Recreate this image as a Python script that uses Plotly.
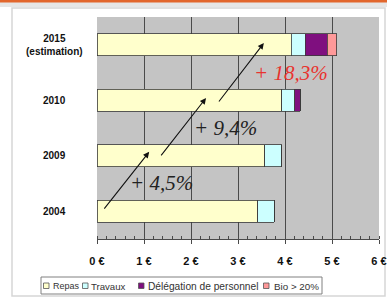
import plotly.graph_objects as go

categories = ["2004", "2009", "2010", "2015<br>(estimation)"]
repas = [3.42, 3.57, 3.93, 4.13]
travaux = [0.35, 0.36, 0.28, 0.30]
delegation = [0.0, 0.0, 0.11, 0.47]
bio = [0.0, 0.0, 0.0, 0.20]
series_names = ["Repas", "Travaux", "Délégation de personnel", "Bio > 20%"]
series_colors = ["#ffffcc", "#ccffff", "#7f0f7f", "#ff9999"]
x_ticks = [0, 1, 2, 3, 4, 5, 6]
x_ticklabels = ["0 €", "1 €", "2 €", "3 €", "4 €", "5 €", "6 €"]

growth = [4.5, 9.4, 18.3]
growth_colors = ["#222222", "#222222", "#e8332f"]
# arrow start/end positions (x in €, y in category index)
arrow_x0 = [0.13, 1.34, 2.57]
arrow_y0 = [0.02, 0.98, 1.95]
arrow_x1 = [1.11, 2.32, 3.55]
arrow_y1 = [1.07, 2.04, 3.03]
label_x = [1.38, 2.74, 4.13]
label_y = [0.51, 1.50, 2.49]

# legend layout (pixel x of each symbol and each label)
legend_sym_px = [43, 82, 138, 263]
legend_txt_px = [51, 89, 146, 272]
legend_font_sizes = [9.0, 9.6, 10.2, 9.8]

fig = go.Figure()
for name, vals, col in zip(series_names, [repas, travaux, delegation, bio], series_colors):
    fig.add_trace(go.Bar(
        y=list(range(len(categories))), x=vals, name=name, orientation="h",
        marker=dict(color=col, line=dict(color="#3a3a3a", width=0.8)),
        width=0.4, showlegend=False,
    ))

def px2x(px):
    return (px - 97) / 282.0

def py2y(py):
    return (239 - py) / 222.0

annotations = []
for i in range(3):
    annotations.append(dict(
        x=arrow_x1[i], y=arrow_y1[i], ax=arrow_x0[i], ay=arrow_y0[i],
        xref="x", yref="y", axref="x", ayref="y",
        showarrow=True, arrowhead=2, arrowsize=1.1, arrowwidth=1.1,
        arrowcolor="#111111", text="",
    ))
    annotations.append(dict(
        x=label_x[i], y=label_y[i], xref="x", yref="y", showarrow=False,
        text="<i>+ " + f"{growth[i]:.1f}".replace(".", ",") + "%</i>",
        font=dict(family="Liberation Serif", size=21, color=growth_colors[i]),
    ))

# category labels, centred like the original
for i, c in enumerate(categories):
    lines = c.split("<br>")
    annotations.append(dict(
        x=px2x(54), y=i, xref="paper", yref="y", showarrow=False,
        xanchor="center", yanchor="middle", align="center",
        text="<br>".join("<b>" + l + "</b>" for l in lines),
        font=dict(family="Liberation Sans", size=10, color="#111111"),
    ))

shapes = [
    dict(type="rect", xref="paper", yref="paper", x0=px2x(0), x1=px2x(387), y0=py2y(7), y1=py2y(2),
         fillcolor="#e6e6e6", line=dict(width=0), layer="below"),
    dict(type="rect", xref="paper", yref="paper", x0=px2x(12), x1=px2x(385), y0=py2y(296), y1=py2y(8),
         fillcolor="rgba(0,0,0,0)", line=dict(color="#d6d6d6", width=1.5), layer="below"),
    dict(type="rect", xref="paper", yref="paper", x0=px2x(0), x1=px2x(387), y0=py2y(2.5), y1=py2y(0),
         fillcolor="#e2662c", line=dict(width=0)),
    # legend box
    dict(type="rect", xref="paper", yref="paper", x0=px2x(41), x1=px2x(322), y0=py2y(294), y1=py2y(277),
         fillcolor="white", line=dict(color="#808080", width=1)),
]
for sx, tx, fs, name, col in zip(legend_sym_px, legend_txt_px, legend_font_sizes, series_names, series_colors):
    shapes.append(dict(type="rect", xref="paper", yref="paper",
                       x0=px2x(sx + 0.5), x1=px2x(sx + 6), y0=py2y(288.5), y1=py2y(283),
                       fillcolor=col, line=dict(color="#555555", width=0.8)))
    annotations.append(dict(
        x=px2x(tx), y=py2y(286), xref="paper", yref="paper", showarrow=False,
        xanchor="left", yanchor="middle", text=name,
        font=dict(family="Liberation Sans", size=fs, color="#333333"),
    ))

fig.update_layout(
    barmode="stack",
    width=387, height=298,
    margin=dict(l=97, r=8, t=17, b=59),
    paper_bgcolor="white",
    plot_bgcolor="#c4c4c4",
    font=dict(family="Liberation Sans", color="#111111"),
    showlegend=False,
    xaxis=dict(
        range=[0, 6], tickvals=x_ticks, ticktext=["<b>" + t + "</b>" for t in x_ticklabels],
        showgrid=True, gridcolor="#4a4a4a", gridwidth=1,
        showline=True, linecolor="#4a4a4a", linewidth=1,
        ticks="outside", ticklen=4, tickcolor="#4a4a4a",
        minor=dict(dtick=0.2, ticks="inside", ticklen=3, tickcolor="#4a4a4a", showgrid=False),
        tickfont=dict(family="Liberation Sans", size=11, color="#111111"),
        ticklabelstandoff=8, zeroline=False, automargin=False,
    ),
    yaxis=dict(
        range=[-0.5, 3.5], showgrid=False, showline=False, ticks="",
        showticklabels=False, zeroline=False, automargin=False,
    ),
    annotations=annotations,
    shapes=shapes,
)

fig.write_html("out.html", config={"displayModeBar": False},
               post_script="document.body.style.margin='0';document.body.style.overflow='hidden';")
